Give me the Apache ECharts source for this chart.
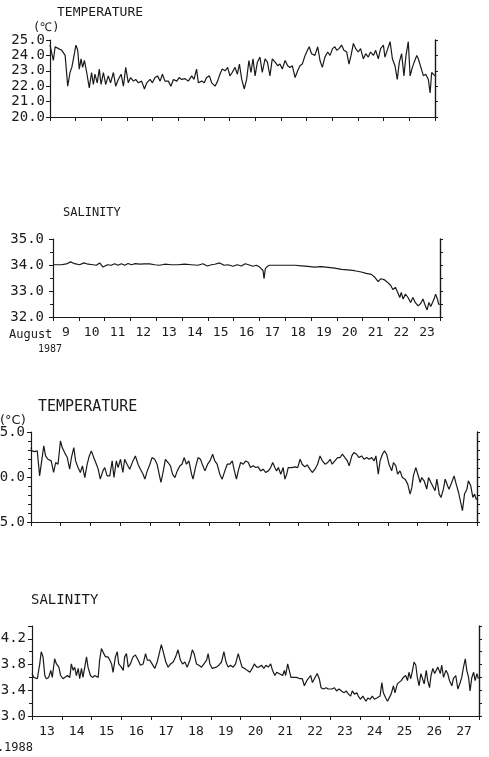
<!DOCTYPE html>
<html>
<head>
<meta charset="utf-8">
<script src="https://cdn.jsdelivr.net/npm/echarts@6/dist/echarts.min.js"></script>
<style>
  html, body { margin: 0; padding: 0; background: #fff; }
  #chart { width: 489px; height: 757px; }
</style>
</head>
<body>
<div id="chart"></div>
<script>
// day labels under each panel (one label per day, centred between ticks)
const days87 = ['9','10','11','12','13','14','15','16','17','18','19','20','21','22','23'];
const days88 = ['13','14','15','16','17','18','19','20','21','22','23','24','25','26','27'];

// [days since first midnight, value]
const temp87 = [
  [0,24.67],[0.07,24.78],[0.13,23.67],[0.2,24.56],[0.33,24.44],[0.46,24.33],[0.52,24.22],[0.59,24.0],[0.69,22.0],[0.78,22.89],
  [0.85,23.22],[0.95,24.11],[1.01,24.67],[1.08,24.33],[1.14,23.11],[1.21,23.78],[1.27,23.22],[1.34,23.67],[1.43,22.89],[1.53,21.89],
  [1.62,22.89],[1.69,22.11],[1.75,22.78],[1.84,22.22],[1.92,23.11],[1.99,22.11],[2.08,22.89],[2.17,22.11],[2.27,22.67],[2.36,22.22],
  [2.47,22.89],[2.56,22.0],[2.66,22.44],[2.77,22.78],[2.86,22.0],[2.95,23.22],[3.05,22.22],[3.14,22.56],[3.25,22.33],[3.34,22.44],
  [3.44,22.22],[3.57,22.33],[3.68,21.82],[3.77,22.22],[3.9,22.44],[3.99,22.22],[4.09,22.56],[4.19,22.67],[4.29,22.33],[4.38,22.78],
  [4.48,22.33],[4.61,22.33],[4.71,22.0],[4.81,22.44],[4.94,22.33],[5.03,22.56],[5.13,22.44],[5.26,22.49],[5.39,22.33],[5.52,22.67],
  [5.61,22.44],[5.71,23.11],[5.78,22.22],[5.91,22.33],[6.01,22.22],[6.1,22.56],[6.21,22.67],[6.3,22.22],[6.43,22.0],[6.53,22.33],
  [6.62,22.78],[6.71,23.11],[6.82,23.0],[6.92,23.22],[7.01,22.67],[7.1,22.89],[7.21,23.22],[7.3,22.78],[7.38,23.44],[7.47,22.44],
  [7.57,21.82],[7.66,22.44],[7.75,23.67],[7.83,22.89],[7.91,23.78],[7.99,22.67],[8.08,23.56],[8.18,23.89],[8.27,22.89],[8.38,23.78],
  [8.47,23.56],[8.57,22.67],[8.66,23.78],[8.77,23.56],[8.87,23.33],[8.96,23.44],[9.05,23.11],[9.16,23.67],[9.26,23.33],[9.35,23.22],
  [9.44,23.33],[9.55,22.56],[9.65,23.0],[9.74,23.33],[9.83,23.44],[9.94,24.0],[10.03,24.33],[10.1,24.56],[10.19,24.11],[10.32,24.0],
  [10.43,24.56],[10.52,23.67],[10.61,23.22],[10.71,23.89],[10.82,24.22],[10.91,24.0],[11.01,24.44],[11.1,24.56],[11.17,24.33],[11.26,24.44],
  [11.36,24.67],[11.45,24.33],[11.56,24.22],[11.65,23.44],[11.73,24.0],[11.82,24.78],[11.91,24.44],[12.01,24.22],[12.1,24.44],[12.21,23.78],
  [12.3,24.11],[12.4,23.89],[12.49,24.22],[12.6,24.0],[12.69,24.33],[12.79,23.78],[12.88,24.44],[12.99,24.67],[13.05,23.89],[13.16,24.44],
  [13.25,24.89],[13.34,23.78],[13.44,23.33],[13.53,22.44],[13.61,23.56],[13.7,24.11],[13.79,22.67],[13.87,24.0],[13.96,24.89],[14.03,22.67],
  [14.12,23.22],[14.19,23.56],[14.29,24.0],[14.35,23.78],[14.45,23.22],[14.55,22.67],[14.64,22.78],[14.74,22.44],[14.81,21.56],[14.87,22.89],
  [14.94,23.0],[15.0,22.67]
];

const sal87 = [
  [0,34.01],[0.32,34.01],[0.52,34.04],[0.68,34.12],[0.84,34.05],[1.03,34.01],[1.2,34.08],[1.36,34.03],[1.55,34.01],[1.68,33.99],
  [1.81,34.08],[1.94,33.92],[2.11,34.01],[2.26,33.99],[2.39,34.05],[2.52,33.99],[2.65,34.05],[2.78,33.99],[2.91,34.06],[3.04,34.01],
  [3.19,34.05],[3.36,34.03],[3.55,34.04],[3.75,34.04],[3.94,34.01],[4.13,33.99],[4.33,34.03],[4.59,34.01],[4.84,34.01],[5.1,34.03],
  [5.36,34.01],[5.62,33.99],[5.81,34.05],[5.98,33.96],[6.14,34.01],[6.27,34.03],[6.46,34.08],[6.63,33.99],[6.78,34.01],[6.98,33.95],
  [7.14,34.01],[7.3,33.96],[7.45,34.05],[7.58,34.01],[7.75,33.95],[7.88,33.99],[8.01,33.92],[8.14,33.79],[8.18,33.47],[8.23,33.86],
  [8.31,33.95],[8.4,33.99],[8.59,33.99],[8.85,33.99],[9.11,33.99],[9.37,33.99],[9.63,33.97],[9.88,33.95],[10.14,33.92],[10.4,33.94],
  [10.66,33.91],[10.92,33.88],[11.18,33.83],[11.43,33.81],[11.69,33.78],[11.95,33.73],[12.14,33.68],[12.34,33.64],[12.47,33.53],[12.6,33.36],
  [12.7,33.47],[12.83,33.44],[12.96,33.34],[13.09,33.21],[13.18,33.05],[13.27,33.14],[13.35,32.97],[13.44,32.75],[13.5,32.95],[13.57,32.69],
  [13.66,32.88],[13.76,32.75],[13.86,32.56],[13.95,32.75],[14.04,32.56],[14.15,32.43],[14.25,32.52],[14.34,32.69],[14.41,32.49],[14.5,32.27],
  [14.57,32.56],[14.64,32.4],[14.7,32.36],[14.77,32.69],[14.83,32.88],[14.9,32.69],[14.95,32.49],[15,32.49]
];

const temp88 = [
  [0,23.27],[0.03,22.9],[0.12,22.82],[0.21,22.9],[0.29,20.13],[0.35,20.31],[0.43,23.45],[0.49,22.34],[0.57,21.97],[0.63,21.79],
  [0.68,21.79],[0.76,20.5],[0.83,21.61],[0.91,21.42],[0.99,24.0],[1.05,23.27],[1.13,22.71],[1.22,22.16],[1.3,20.87],[1.36,22.16],
  [1.44,23.27],[1.5,21.79],[1.58,21.05],[1.66,20.5],[1.73,21.24],[1.81,19.94],[1.89,21.42],[1.96,22.34],[2.03,22.9],[2.11,22.16],
  [2.2,21.42],[2.26,20.87],[2.33,19.76],[2.42,20.68],[2.48,21.05],[2.56,20.13],[2.65,20.13],[2.73,21.79],[2.79,19.94],[2.87,21.79],
  [2.93,21.05],[3.01,21.97],[3.09,20.5],[3.15,21.97],[3.23,21.42],[3.32,20.87],[3.43,21.79],[3.51,22.34],[3.6,21.42],[3.68,20.87],
  [3.77,20.31],[3.83,19.76],[3.91,20.68],[4.0,21.42],[4.07,22.16],[4.16,21.97],[4.24,21.42],[4.31,20.31],[4.37,19.39],[4.44,20.5],
  [4.52,21.97],[4.61,21.61],[4.69,21.24],[4.76,20.31],[4.84,19.94],[4.92,20.68],[5.01,21.24],[5.08,21.42],[5.15,22.16],[5.23,21.42],
  [5.31,21.79],[5.4,20.31],[5.45,19.76],[5.53,21.05],[5.62,22.16],[5.7,21.97],[5.78,21.24],[5.85,20.68],[5.94,21.42],[6.02,21.79],
  [6.11,22.53],[6.18,21.79],[6.26,21.42],[6.35,20.31],[6.43,19.76],[6.52,20.68],[6.6,21.42],[6.69,21.42],[6.77,21.79],[6.84,20.68],
  [6.91,19.76],[6.97,20.68],[7.05,21.61],[7.14,21.42],[7.22,21.79],[7.31,21.61],[7.38,21.05],[7.47,21.24],[7.56,21.05],[7.64,21.13],
  [7.72,20.68],[7.81,20.87],[7.89,20.5],[7.98,20.68],[8.06,21.05],[8.13,21.61],[8.2,21.05],[8.26,20.68],[8.32,21.05],[8.4,20.31],
  [8.48,21.05],[8.54,19.76],[8.6,20.31],[8.65,21.05],[8.77,21.05],[8.88,21.13],[8.97,21.05],[9.05,21.97],[9.12,21.42],[9.21,21.13],
  [9.29,21.35],[9.38,20.87],[9.46,20.5],[9.55,20.87],[9.64,21.42],[9.72,22.34],[9.8,21.79],[9.89,21.42],[9.98,21.61],[10.06,21.97],
  [10.13,21.42],[10.22,21.79],[10.31,22.16],[10.39,22.16],[10.47,22.53],[10.56,22.16],[10.64,21.79],[10.7,21.24],[10.79,22.34],[10.86,22.71],
  [10.95,22.53],[11.03,22.16],[11.12,22.34],[11.2,21.97],[11.29,22.16],[11.37,21.97],[11.46,22.16],[11.54,21.79],[11.6,22.34],[11.68,20.31],
  [11.74,21.79],[11.82,22.53],[11.89,22.9],[11.96,22.53],[12.04,21.42],[12.13,20.68],[12.19,21.61],[12.27,21.24],[12.33,20.31],[12.41,20.68],
  [12.49,19.94],[12.58,19.76],[12.67,19.21],[12.75,18.1],[12.81,18.84],[12.86,20.13],[12.94,21.05],[13.01,20.31],[13.09,19.39],[13.14,19.94],
  [13.22,19.58],[13.31,18.65],[13.37,19.94],[13.45,19.39],[13.51,19.21],[13.59,18.47],[13.65,19.76],[13.73,18.1],[13.79,17.73],[13.87,18.65],
  [13.93,19.76],[14.01,19.02],[14.06,18.65],[14.15,19.39],[14.23,20.13],[14.3,19.21],[14.38,18.28],[14.43,18.47],[14.51,16.25],[14.58,18.1],
  [14.66,18.65],[14.71,19.58],[14.79,19.02],[14.86,17.73],[14.92,18.1],[14.97,17.55],[15,17.55]
];

const sal88 = [
  [0,33.66],[0.06,33.6],[0.11,33.63],[0.18,33.58],[0.26,33.81],[0.31,34.0],[0.37,33.92],[0.43,33.63],[0.48,33.58],[0.56,33.6],
  [0.63,33.71],[0.68,33.6],[0.76,33.89],[0.82,33.81],[0.9,33.76],[0.96,33.63],[1.04,33.58],[1.1,33.6],[1.19,33.63],[1.27,33.6],
  [1.32,33.81],[1.38,33.71],[1.43,33.76],[1.49,33.63],[1.55,33.74],[1.6,33.58],[1.66,33.74],[1.71,33.6],[1.77,33.76],[1.83,33.92],
  [1.88,33.76],[1.96,33.63],[2.03,33.6],[2.11,33.63],[2.16,33.63],[2.22,33.6],[2.27,33.87],[2.33,34.05],[2.41,33.97],[2.47,33.92],
  [2.55,33.92],[2.61,33.87],[2.67,33.81],[2.72,33.68],[2.8,33.92],[2.86,34.0],[2.91,33.81],[3.0,33.76],[3.06,33.71],[3.11,33.92],
  [3.17,33.97],[3.23,33.76],[3.3,33.81],[3.39,33.92],[3.47,33.95],[3.56,33.87],[3.64,33.79],[3.73,33.81],[3.81,33.97],[3.87,33.87],
  [3.95,33.87],[4.03,33.81],[4.12,33.74],[4.2,33.84],[4.27,33.97],[4.34,34.11],[4.42,33.97],[4.49,33.84],[4.57,33.76],[4.65,33.81],
  [4.74,33.84],[4.82,33.92],[4.9,34.03],[4.98,33.87],[5.05,33.81],[5.13,33.84],[5.21,33.76],[5.3,33.87],[5.38,34.03],[5.44,33.97],
  [5.52,33.81],[5.6,33.79],[5.69,33.76],[5.77,33.81],[5.86,33.87],[5.91,33.97],[5.97,33.81],[6.05,33.74],[6.11,33.76],[6.19,33.76],
  [6.27,33.79],[6.36,33.84],[6.44,34.0],[6.51,33.84],[6.58,33.76],[6.66,33.79],[6.75,33.76],[6.83,33.81],[6.92,33.97],[6.98,33.87],
  [7.05,33.76],[7.14,33.74],[7.22,33.71],[7.31,33.68],[7.39,33.74],[7.46,33.81],[7.54,33.76],[7.61,33.76],[7.7,33.79],[7.78,33.74],
  [7.85,33.79],[7.93,33.76],[8.01,33.81],[8.07,33.71],[8.15,33.63],[8.21,33.68],[8.29,33.66],[8.35,33.68],[8.41,33.63],[8.47,33.71],
  [8.51,33.63],[8.58,33.81],[8.63,33.84],[8.69,33.6],[8.77,33.6],[8.88,33.6],[8.99,33.58],[9.07,33.58],[9.14,33.47],[9.22,33.55],
  [9.27,33.58],[9.35,33.63],[9.41,33.52],[9.5,33.6],[9.57,33.66],[9.64,33.58],[9.7,33.44],[9.78,33.42],[9.87,33.44],[9.94,33.42],
  [10.06,33.42],[10.15,33.44],[10.22,33.39],[10.3,33.42],[10.39,33.39],[10.47,33.36],[10.54,33.39],[10.62,33.34],[10.69,33.31],[10.75,33.39],
  [10.82,33.34],[10.9,33.36],[10.95,33.31],[11.02,33.26],[11.1,33.31],[11.15,33.28],[11.21,33.23],[11.27,33.28],[11.34,33.26],[11.42,33.31],
  [11.49,33.26],[11.57,33.28],[11.62,33.26],[11.68,33.31],[11.74,33.52],[11.79,33.36],[11.87,33.28],[11.93,33.23],[11.98,33.26],[12.05,33.34],
  [12.13,33.47],[12.18,33.36],[12.26,33.5],[12.32,33.52],[12.39,33.55],[12.46,33.6],[12.54,33.63],[12.6,33.55],[12.65,33.68],[12.71,33.58],
  [12.77,33.71],[12.82,33.84],[12.88,33.79],[12.93,33.6],[12.99,33.47],[13.05,33.66],[13.1,33.68],[13.16,33.5],[13.23,33.71],[13.28,33.55],
  [13.34,33.44],[13.39,33.63],[13.45,33.74],[13.51,33.66],[13.56,33.63],[13.62,33.76],[13.7,33.66],[13.75,33.79],[13.81,33.6],[13.89,33.71],
  [13.95,33.66],[14.01,33.55],[14.09,33.47],[14.14,33.58],[14.22,33.63],[14.29,33.42],[14.37,33.52],[14.42,33.6],[14.48,33.76],[14.54,33.89],
  [14.59,33.71],[14.65,33.6],[14.7,33.39],[14.76,33.6],[14.82,33.68],[14.87,33.55],[14.93,33.66],[14.98,33.58]
];

const INK = '#1a1a1a';
const MONO = '"DejaVu Sans Mono", monospace';

// panel settings: grid box, y range, label step, minor ticks, right-axis step
const panels = [
  { grid: {left: 50, top: 40, width: 385, height: 77}, data: temp87, days: days87, showDays: false,
    min: 20, max: 25, step: 1, minor: 0, rightStep: 1, fs: 14, margin: 5, hideMax: false },
  { grid: {left: 53, top: 239, width: 387, height: 78}, data: sal87, days: days87, showDays: true,
    min: 32, max: 35, step: 1, minor: 2, rightStep: 0.5, fs: 14, margin: 9, hideMax: false },
  { grid: {left: 31, top: 432, width: 446, height: 90}, data: temp88, days: days88, showDays: false,
    min: 15, max: 25, step: 5, minor: 5, rightStep: 1, fs: 14, margin: 6, hideMax: false },
  { grid: {left: 32, top: 626, width: 447, height: 90}, data: sal88, days: days88, showDays: true,
    min: 33.0, max: 34.4, step: 0.4, minor: 2, rightStep: 0.2, fs: 14, margin: 6, hideMax: true }
];

const grids = [], xAxes = [], yAxes = [], series = [];
panels.forEach((p, i) => {
  // keep the grid exactly where it is set, even if labels run off the page
  grids.push(Object.assign({ containLabel: false, outerBoundsMode: 'none' }, p.grid));
  // category axis: ticks at day boundaries, labels centred on the day
  xAxes.push({
    type: 'category', gridIndex: i, data: p.days, boundaryGap: true, position: 'bottom',
    axisLine: { lineStyle: { color: INK, width: 1.2 } },
    axisTick: { show: true, length: 4, lineStyle: { color: INK } },
    axisLabel: { show: p.showDays, color: INK, fontFamily: MONO, fontSize: 13, margin: 9, interval: 0 },
    splitLine: { show: false }
  });
  // hidden value axis carrying the time series
  xAxes.push({ type: 'value', gridIndex: i, min: 0, max: 15, show: false });
  yAxes.push({
    type: 'value', gridIndex: i, min: p.min, max: p.max, interval: p.step, position: 'left',
    axisLine: { show: true, lineStyle: { color: INK, width: 1.2 } },
    axisTick: { show: true, length: 4, lineStyle: { color: INK } },
    minorTick: { show: p.minor > 0, splitNumber: p.minor || 5, length: 3, lineStyle: { color: INK } },
    axisLabel: { color: INK, fontFamily: MONO, fontSize: p.fs, margin: p.margin, showMaxLabel: !p.hideMax,
      formatter: v => v.toFixed(1) },
    splitLine: { show: false }
  });
  yAxes.push({
    type: 'value', gridIndex: i, min: p.min, max: p.max, interval: p.rightStep, position: 'right',
    axisLine: { show: true, lineStyle: { color: INK, width: 1.4 } },
    axisTick: { show: true, length: 3, lineStyle: { color: INK } },
    axisLabel: { show: false },
    splitLine: { show: false }
  });
  series.push({
    type: 'line', xAxisIndex: 2 * i + 1, yAxisIndex: 2 * i, data: p.data,
    showSymbol: false, smooth: false, lineStyle: { color: INK, width: 1.2 }, silent: true
  });
});

function label(text, x, y, font, align) {
  return {
    type: 'text', x: x, y: y,
    style: { text: text, fill: INK, font: font, textAlign: align || 'left', textVerticalAlign: 'middle' }
  };
}

const chart = echarts.init(document.getElementById('chart'), null, { renderer: 'canvas' });
chart.setOption({
  animation: false,
  backgroundColor: '#fff',
  grid: grids,
  xAxis: xAxes,
  yAxis: yAxes,
  series: series,
  graphic: [
    label('TEMPERATURE', 57, 13, '13px ' + MONO),
    label('(℃)', 33, 28, '12px ' + MONO),
    label('SALINITY', 63, 213, '12px ' + MONO),
    label('August', 9, 335, '12px ' + MONO),
    label('1987', 38, 349, '10px ' + MONO),
    label('TEMPERATURE', 38, 407, '15px ' + MONO),
    label('(°C)', 0, 421, '13px "DejaVu Sans", sans-serif'),
    label('SALINITY', 31, 600, '14px ' + MONO),
    label('Aug.1988', 33, 748, '12px ' + MONO, 'right')
  ]
});
</script>
</body>
</html>
